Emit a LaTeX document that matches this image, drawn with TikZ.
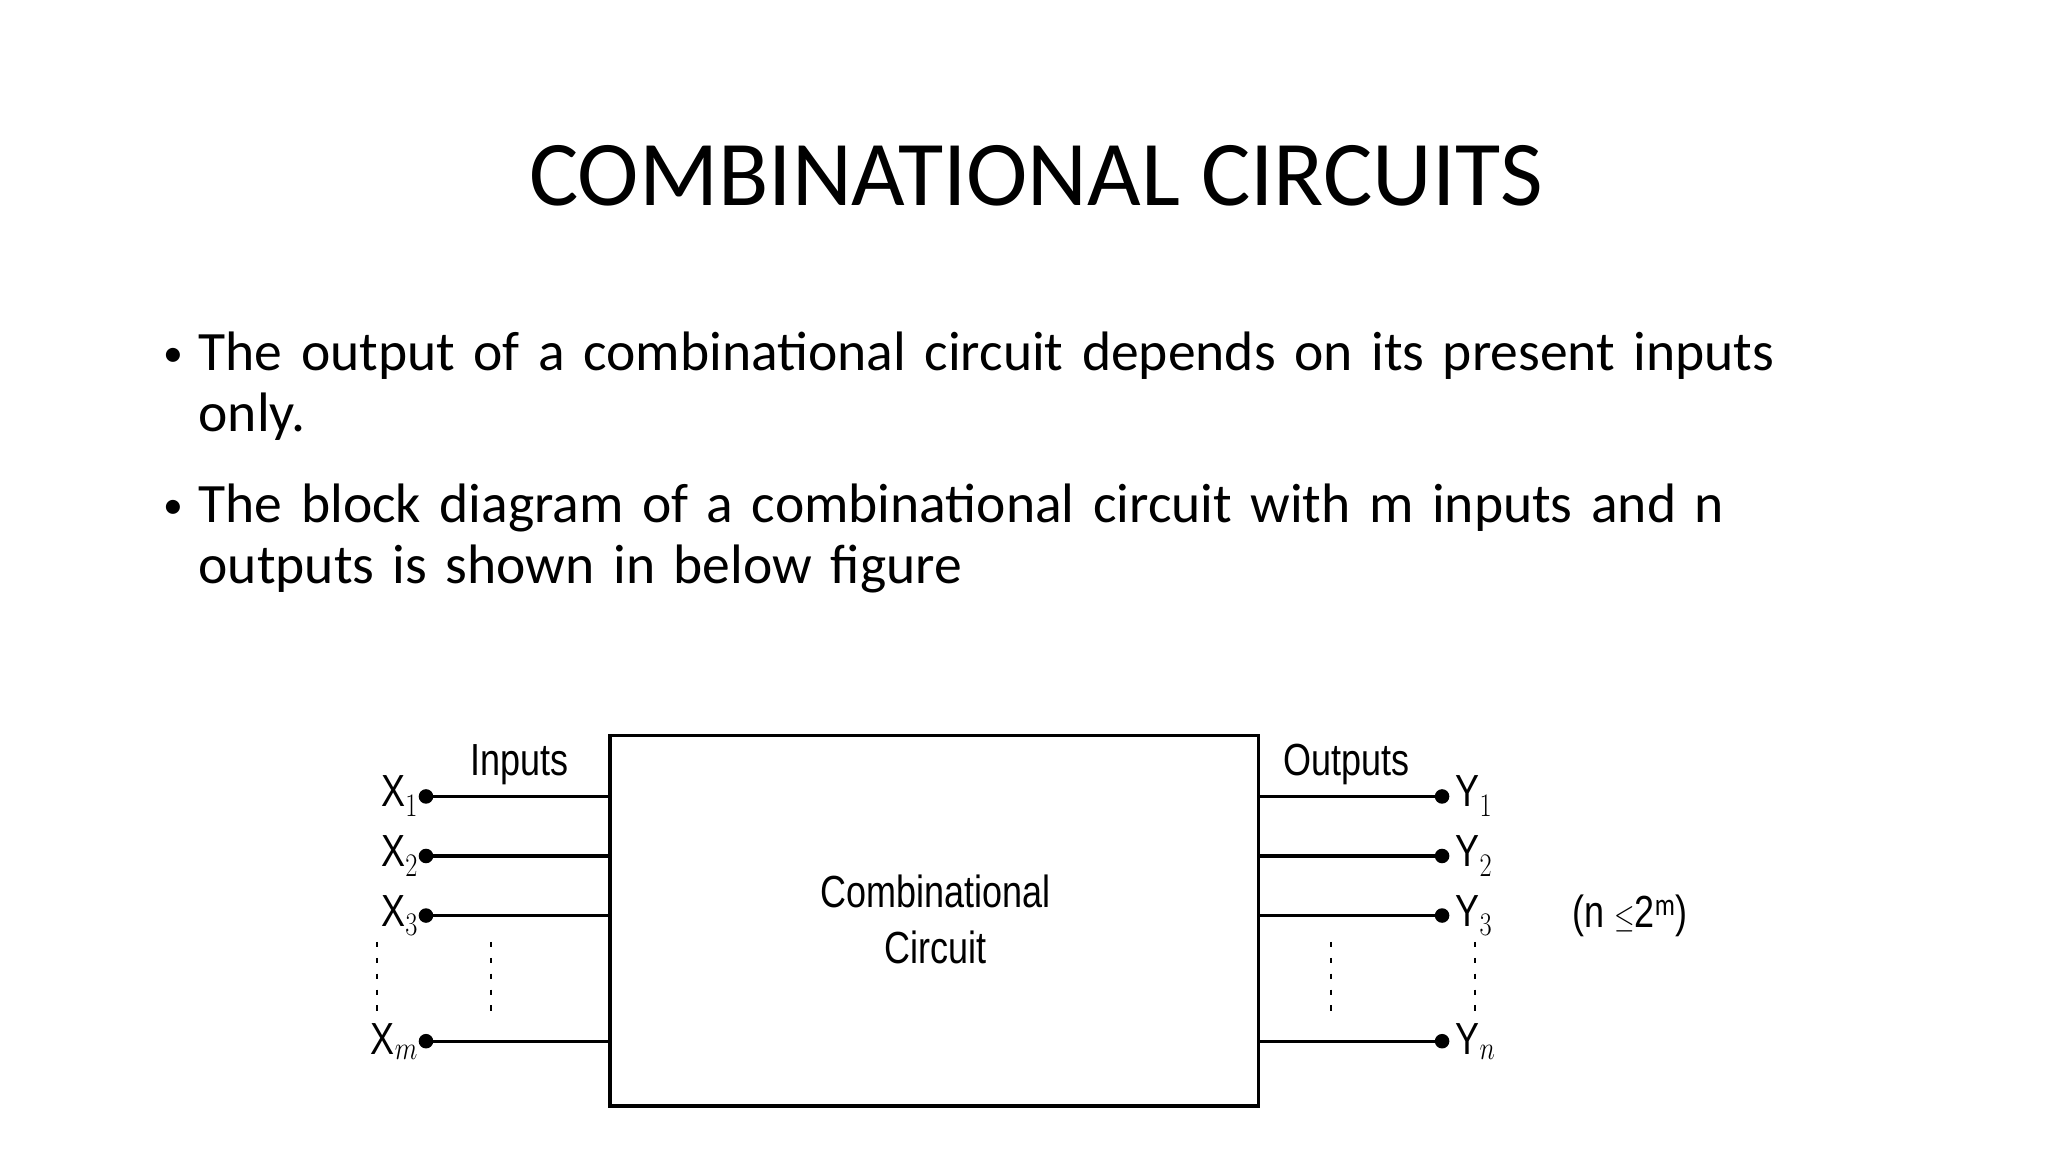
\documentclass[tikz,border=0pt]{standalone}
\usepackage{fontspec}
\setmainfont{Carlito}
\newfontfamily\arialf{Liberation Sans}
\begin{document}
\begin{tikzpicture}[x=1pt,y=-1pt,
  wire/.style={line width=2.5pt},
  pin/.style={circle,fill=black,inner sep=0pt,minimum size=11pt},
  lab/.style={font=\arialf\fontsize{34}{36}\selectfont,inner sep=0pt,xscale=0.8},
  vdots/.style={line width=2pt,dash pattern=on 4pt off 8pt}]
\useasboundingbox (0,0) rectangle (1548,871);
\node[font=\fontsize{70}{80}\selectfont] (title) at (783,133) {COMBINATIONAL CIRCUITS};
\node[anchor=base west,font=\fontsize{42}{50}\selectfont,inner sep=0pt,align=left,text width=1300pt] (b1) at (150,280)
 {\makebox[0pt][r]{\raisebox{3pt}{\fontsize{30}{30}\selectfont•}\hspace{12pt}}The output of a combinational circuit depends on its present inputs\\[-4pt]only.};
\node[anchor=base west,font=\fontsize{42}{50}\selectfont,inner sep=0pt,align=left,text width=1300pt] (b2) at (150,395)
 {\makebox[0pt][r]{\raisebox{3pt}{\fontsize{30}{30}\selectfont•}\hspace{12pt}}The block diagram of a combinational circuit with m inputs and n\\[-4pt]outputs is shown in below figure};
\node[draw,line width=2.5pt,minimum width=490pt,minimum height=280pt,inner sep=0pt] (box) at (706,696) {};
\node[lab,align=center] (cc) at (707,695) {Combinational\\[6pt]Circuit};
\node[lab] (inl) at (393,578) {Inputs};
\node[lab] (outl) at (1018,578) {Outputs};
\foreach \i/\y/\s in {1/602/1,2/647/2,3/692/3,4/787/m}{
  \node[pin] (x\i) at (322,\y) {};
  \node[lab,anchor=east] (xl\i) at (316,\y) {X$_{\s}$};
  \draw[wire] (x\i.center) -- (x\i.center -| box.west);
}
\foreach \i/\y/\s in {1/602/1,2/647/2,3/692/3,4/787/n}{
  \node[pin] (y\i) at (1090,\y) {};
  \node[lab,anchor=west] (yl\i) at (1100,\y) {Y$_{\s}$};
  \draw[wire] (y\i.center -| box.east) -- (y\i.center);
}
\node[lab] (cond) at (1232,692) {(n $\leq$2$^{\mathrm{m}}$)};
\foreach \n/\x in {d1/285,d2/371,d3/1006,d4/1115}{
  \coordinate (\n a) at (\x,712); \coordinate (\n b) at (\x,768);
  \draw[vdots] (\n a) -- (\n b);
}
\end{tikzpicture}
\end{document}
